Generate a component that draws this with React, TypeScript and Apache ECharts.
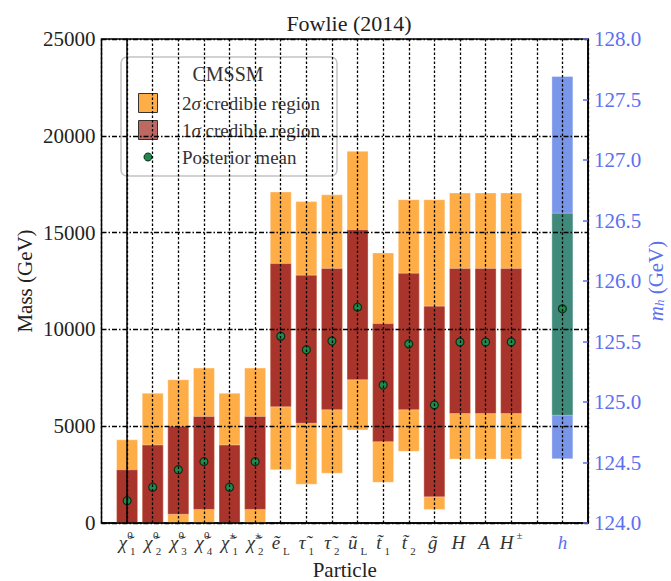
import React, { useEffect, useRef } from "react";
import * as echarts from "echarts";

// ---- Data ----
const baseLabels = ["χ̃", "χ̃", "χ̃", "χ̃", "χ̃", "χ̃", "ẽ", "τ̃", "τ̃", "ũ", "t̃", "t̃", "g̃", "H", "A", "H", "", "h"];
const supLabels = ["0", "0", "0", "0", "±", "±", "", "", "", "", "", "", "", "", "", "±", "", ""];
const subLabels = ["1", "2", "3", "4", "1", "2", "L", "1", "2", "L", "1", "2", "", "", "", "", "", ""];

const outerLow = [0, 0, 0, 0, 0, 0, 2750, 2000, 2570, 4800, 2100, 3700, 700, 3300, 3300, 3300];
const outerHigh = [4300, 6700, 7400, 8000, 6700, 8000, 17100, 16600, 16950, 19200, 13950, 16700, 16700, 17050, 17050, 17050];
const innerLow = [0, 0, 450, 700, 0, 700, 6000, 5150, 5850, 7400, 4200, 5850, 1350, 5650, 5650, 5650];
const innerHigh = [2750, 4030, 5000, 5500, 4030, 5500, 13400, 12800, 13150, 15150, 10300, 12900, 11200, 13150, 13150, 13150];
const meanMass = [1150, 1850, 2750, 3170, 1850, 3170, 9650, 8950, 9400, 11150, 7130, 9250, 6100, 9350, 9350, 9350];

const hOuter = [124.53, 127.69];
const hInner = [124.89, 126.56];
const hMean = 125.77;

const leftTicks = { min: 0, max: 25000, interval: 5000 };
const rightTicks = { min: 124, max: 128, interval: 0.5 };

const SERIF = "'Liberation Serif', 'DejaVu Serif', serif";
const ORANGE = "#ffad47";
const RED = "#a9342c";
const BLUE = "#7a96e8";
const TEAL = "#3f8a7a";
const GREEN = "#1f8a4c";
const AXIS_BLUE = "#5b6ff0";
const TEXT = "#222";
const HALF = 0.41;

const hIndex = baseLabels.indexOf("h");

function rectItem(color: string) {
  return (params: any, api: any) => {
    const x = api.value(0);
    const lo = api.value(1);
    const hi = api.value(2);
    const p1 = api.coord([x - HALF, hi]);
    const p2 = api.coord([x + HALF, lo]);
    return {
      type: "rect",
      shape: { x: p1[0], y: p1[1], width: p2[0] - p1[0], height: p2[1] - p1[1] },
      style: { fill: color, stroke: "rgba(255,255,255,0.35)", lineWidth: 1 },
    };
  };
}

function xLabel(val: number) {
  const i = Math.round(val);
  if (i < 0 || i >= baseLabels.length || !baseLabels[i]) return "";
  const b = baseLabels[i];
  const sp = supLabels[i];
  const sb = subLabels[i];
  if (i === hIndex) return `{hb|${b}}`;
  let s = `{m|${b}}`;
  if (sp && sb) s += `{sp0|${sp}}{sb|${sb}}`;
  else if (sp) s += `{sp|${sp}}`;
  else if (sb) s += `{sb|${sb}}`;
  return s;
}

export default function App() {
  const ref = useRef<HTMLDivElement>(null);
  useEffect(() => {
    if (!ref.current) return;
    const chart = echarts.init(ref.current, null, { renderer: "svg" });
    const gridDotted = { show: true, lineStyle: { color: "#000", width: 1.3, type: [2.5, 2] as any } };
    const gridDashDot = { show: true, lineStyle: { color: "#000", width: 1.3, type: [5, 2, 1.5, 2] as any } };
    const option: any = {
      animation: false,
      backgroundColor: "#fff",
      title: {
        text: "Fowlie (2014)",
        left: 344,
        textAlign: "center",
        top: 7,
        textStyle: { fontFamily: SERIF, fontSize: 22, fontWeight: "normal", color: TEXT },
      },
      grid: {
        left: 101.5,
        top: 39,
        right: 83,
        bottom: 58,
        show: true,
        borderColor: "#000",
        borderWidth: 1.5,
        outerBoundsMode: "none",
      },
      xAxis: {
        type: "value",
        min: -1,
        max: 18,
        interval: 1,
        z: 10,
        name: "Particle",
        nameLocation: "middle",
        nameGap: 36,
        nameMoveOverlap: false,
        nameTextStyle: { fontFamily: SERIF, fontSize: 21, color: TEXT },
        axisLine: { show: true, lineStyle: { color: "#000", width: 1.5 } },
        axisTick: { show: false },
        splitLine: gridDotted,
        axisLabel: {
          margin: 6,
          formatter: xLabel,
          rich: {
            m: { fontFamily: SERIF, fontStyle: "italic", fontSize: 19, color: "#333", lineHeight: 27, padding: [0, 3, 0, 0] },
            hb: { fontFamily: SERIF, fontStyle: "italic", fontSize: 19, color: AXIS_BLUE, lineHeight: 27 },
            sp: { fontFamily: SERIF, fontSize: 11, color: "#333", verticalAlign: "top", lineHeight: 12 },
            sp0: { fontFamily: SERIF, fontSize: 11, color: "#333", verticalAlign: "top", lineHeight: 12, width: 0 },
            sb: { fontFamily: SERIF, fontSize: 11, color: "#333", verticalAlign: "bottom", lineHeight: 12 },
          },
        },
      },
      yAxis: [
        {
          type: "value",
          min: leftTicks.min,
          max: leftTicks.max,
          interval: leftTicks.interval,
          z: 10,
          name: "Mass (GeV)",
          nameLocation: "middle",
          nameRotate: 90,
          nameGap: 66,
          nameMoveOverlap: false,
          nameTextStyle: { fontFamily: SERIF, fontSize: 21, color: TEXT },
          axisLine: { show: true, lineStyle: { color: "#000", width: 1.5 } },
          axisTick: { show: false },
          splitLine: gridDashDot,
          axisLabel: {
            fontFamily: SERIF,
            fontSize: 21,
            color: TEXT,
            margin: 6,
            formatter: (v: number) => String(v),
          },
        },
        {
          type: "value",
          position: "right",
          min: rightTicks.min,
          max: rightTicks.max,
          interval: rightTicks.interval,
          z: 10,
          name: "{i|m}{s|h} (GeV)",
          nameLocation: "middle",
          nameRotate: 90,
          nameGap: 57,
          nameMoveOverlap: false,
          nameTextStyle: {
            fontFamily: SERIF,
            fontSize: 21,
            color: AXIS_BLUE,
            rich: {
              i: { fontFamily: SERIF, fontStyle: "italic", fontSize: 21, color: AXIS_BLUE },
              s: { fontFamily: SERIF, fontStyle: "italic", fontSize: 13, color: AXIS_BLUE, verticalAlign: "bottom" },
            },
          },
          axisLine: { show: true, lineStyle: { color: "#000", width: 1.5 } },
          axisTick: { show: true, inside: true, length: 5, lineStyle: { color: AXIS_BLUE, width: 1.5 } },
          splitLine: { show: false },
          axisLabel: {
            fontFamily: SERIF,
            fontSize: 21,
            color: AXIS_BLUE,
            margin: 6,
            formatter: (v: number) => v.toFixed(1),
          },
        },
      ],
      series: [
        {
          name: "2σ credible region",
          type: "custom",
          renderItem: rectItem(ORANGE),
          encode: { x: 0, y: [1, 2] },
          data: outerLow.map((lo, i) => [i, lo, outerHigh[i]]),
          z: 2,
        },
        {
          name: "1σ credible region",
          type: "custom",
          renderItem: rectItem(RED),
          encode: { x: 0, y: [1, 2] },
          data: innerLow.map((lo, i) => [i, lo, innerHigh[i]]),
          z: 3,
        },
        {
          name: "h 2σ",
          type: "custom",
          yAxisIndex: 1,
          renderItem: rectItem(BLUE),
          encode: { x: 0, y: [1, 2] },
          data: [[hIndex, hOuter[0], hOuter[1]]],
          z: 2,
        },
        {
          name: "h 1σ",
          type: "custom",
          yAxisIndex: 1,
          renderItem: rectItem(TEAL),
          encode: { x: 0, y: [1, 2] },
          data: [[hIndex, hInner[0], hInner[1]]],
          z: 3,
        },
        {
          name: "Posterior mean",
          type: "scatter",
          symbolSize: 8,
          itemStyle: { color: GREEN, borderColor: "#0b2e17", borderWidth: 1.2, opacity: 1 },
          data: meanMass.map((v, i) => [i, v]),
          z: 4,
        },
        {
          name: "h mean",
          type: "scatter",
          yAxisIndex: 1,
          symbolSize: 8,
          itemStyle: { color: GREEN, borderColor: "#0b2e17", borderWidth: 1.2, opacity: 1 },
          data: [[hIndex, hMean]],
          z: 4,
        },
      ],
      graphic: [
        {
          type: "group",
          z: 100,
          children: [
            {
              type: "rect",
              shape: { x: 121, y: 57, width: 216, height: 119, r: 6 },
              style: { fill: "rgba(255,255,255,0.82)", stroke: "#c4c4c4", lineWidth: 1.5 },
            },
            {
              type: "text",
              x: 228,
              y: 74,
              style: { text: "CMSSM", font: `20px ${SERIF}`, fill: "#333", align: "center", verticalAlign: "middle" },
            },
            {
              type: "rect",
              shape: { x: 138.5, y: 93.5, width: 19, height: 19 },
              style: { fill: ORANGE, stroke: "#333", lineWidth: 1 },
            },
            {
              type: "text",
              x: 182,
              y: 103,
              style: {
                text: "2{g|σ} credible region",
                font: `19px ${SERIF}`,
                fill: "#333",
                align: "left",
                verticalAlign: "middle",
                rich: { g: { fontFamily: SERIF, fontStyle: "italic", fontSize: 19, fill: "#333" } },
              },
            },
            {
              type: "rect",
              shape: { x: 138.5, y: 120.5, width: 19, height: 19 },
              style: { fill: "rgba(169,52,44,0.75)", stroke: "#333", lineWidth: 1 },
            },
            {
              type: "text",
              x: 182,
              y: 130,
              style: {
                text: "1{g|σ} credible region",
                font: `19px ${SERIF}`,
                fill: "#333",
                align: "left",
                verticalAlign: "middle",
                rich: { g: { fontFamily: SERIF, fontStyle: "italic", fontSize: 19, fill: "#333" } },
              },
            },
            {
              type: "circle",
              shape: { cx: 148, cy: 157, r: 4 },
              style: { fill: GREEN, stroke: "#0b2e17", lineWidth: 1 },
            },
            {
              type: "text",
              x: 182,
              y: 157,
              style: { text: "Posterior mean", font: `19px ${SERIF}`, fill: "#333", align: "left", verticalAlign: "middle" },
            },
          ],
        },
      ],
    };
    chart.setOption(option);
    return () => chart.dispose();
  }, []);
  return (
    <div
      ref={ref}
      style={{ position: "fixed", left: 0, top: 0, width: 671, height: 581, background: "#fff" }}
    />
  );
}
